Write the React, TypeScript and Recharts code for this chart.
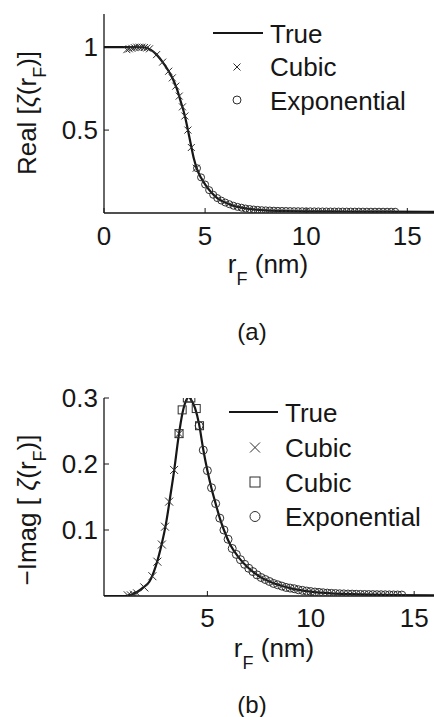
import React from 'react';
import { ComposedChart, Line, Scatter, XAxis, YAxis } from 'recharts';

// (a) real part: true curve
const realTrueR = [0, 1, 1.5, 2.0, 2.3, 2.6, 2.9, 3.2, 3.4, 3.6, 3.8, 4.0, 4.15, 4.3, 4.45, 4.6, 4.8, 5.0, 5.3, 5.6, 6.0, 6.5, 7.0, 7.5, 8, 9, 10, 12, 14, 18.1];
const realTrueV = [1, 1, 1, 0.998, 0.985, 0.955, 0.91, 0.855, 0.81, 0.75, 0.67, 0.585, 0.5, 0.41, 0.325, 0.265, 0.212, 0.172, 0.125, 0.09, 0.063, 0.04, 0.028, 0.02, 0.016, 0.012, 0.01, 0.009, 0.008, 0.007];

// (a) cubic samples
const realCubicR = [1.13, 1.25, 1.38, 1.5, 1.62, 1.75, 1.88, 2.0, 2.12, 2.25, 2.6, 2.9, 3.2, 3.38, 3.55, 3.72, 3.88, 4.0, 4.15, 4.32, 4.56];
const realCubicV = [0.985, 0.99, 0.993, 0.997, 1.0, 1.0, 1.0, 0.998, 0.995, 0.99, 0.955, 0.91, 0.855, 0.815, 0.765, 0.705, 0.64, 0.585, 0.5, 0.395, 0.27];

// exponential samples share one r grid in both panels
const expR = [
  4.6, 4.8, 5.0, 5.2, 5.4, 5.6, 5.8, 6.0, 6.2, 6.4,
  6.6, 6.8, 7.0, 7.2, 7.4, 7.6, 7.8, 8.0, 8.2, 8.4,
  8.6, 8.8, 9.0, 9.2, 9.4, 9.6, 9.8, 10.0, 10.2, 10.4,
  10.6, 10.8, 11.0, 11.2, 11.4, 11.6, 11.8, 12.0, 12.2, 12.4,
  12.6, 12.8, 13.0, 13.2, 13.4, 13.6, 13.8, 14.0, 14.2, 14.4,
];
const realExpV = [
  0.27, 0.215, 0.172, 0.138, 0.11, 0.09, 0.075, 0.063, 0.053, 0.044,
  0.037, 0.032, 0.027, 0.024, 0.021, 0.019, 0.017, 0.016, 0.015, 0.014,
  0.013, 0.0125, 0.012, 0.0115, 0.011, 0.0108, 0.0105, 0.0102, 0.01, 0.0098,
  0.0096, 0.0094, 0.0092, 0.009, 0.0089, 0.0088, 0.0087, 0.0086, 0.0085, 0.0084,
  0.0083, 0.0082, 0.0081, 0.008, 0.008, 0.0079, 0.0079, 0.0078, 0.0078, 0.0077,
];

// (b) -imag part: true curve
const imagTrueR = [0, 1.0, 1.3, 1.6, 1.9, 2.2, 2.5, 2.8, 3.0, 3.2, 3.4, 3.6, 3.8, 4.0, 4.1, 4.2, 4.4, 4.6, 4.8, 5.0, 5.2, 5.4, 5.6, 5.8, 6.1, 6.5, 7.0, 7.5, 8.0, 9.0, 10, 11, 12, 14, 17.7];
const imagTrueV = [0, 0, 0.002, 0.006, 0.013, 0.022, 0.045, 0.08, 0.11, 0.15, 0.192, 0.24, 0.278, 0.298, 0.302, 0.298, 0.285, 0.26, 0.222, 0.19, 0.163, 0.14, 0.118, 0.1, 0.078, 0.059, 0.042, 0.03, 0.022, 0.012, 0.0067, 0.004, 0.0028, 0.0015, 0.0008];

// (b) cubic samples, crosses
const imagCubicR = [1.15, 1.3, 1.45, 1.6, 1.95, 2.34, 2.58, 2.8, 2.95, 3.15, 3.39, 3.63];
const imagCubicV = [0.001, 0.001, 0.002, 0.004, 0.013, 0.03, 0.052, 0.078, 0.105, 0.143, 0.191, 0.246];

// (b) cubic samples, squares
const imagCubic2R = [3.63, 3.78, 4.03, 4.2, 4.46, 4.62];
const imagCubic2V = [0.246, 0.282, 0.3, 0.3, 0.284, 0.258];

const imagExpV = [
  0.258, 0.221, 0.19, 0.164, 0.14, 0.118, 0.1, 0.086, 0.072, 0.063,
  0.055, 0.048, 0.042, 0.037, 0.032, 0.028, 0.025, 0.022, 0.019, 0.017,
  0.015, 0.013, 0.012, 0.011, 0.0095, 0.0085, 0.0075, 0.0067, 0.006, 0.0054,
  0.0049, 0.0044, 0.004, 0.0037, 0.0034, 0.0032, 0.003, 0.0028, 0.0026, 0.0024,
  0.0023, 0.0022, 0.0021, 0.002, 0.0019, 0.0018, 0.0017, 0.0016, 0.0015, 0.0014,
];

const xTicksA = [0, 5, 10, 15];
const yTicksA = [0.5, 1];
const xTicksB = [5, 10, 15];
const yTicksB = [0.1, 0.2, 0.3];

const zip = (rs: number[], vs: number[]) => rs.map((r, i) => ({ r, v: vs[i] }));

const FONT = '"Liberation Sans", Arial, Helvetica, sans-serif';
const INK = '#161616';
const MARK = '#2e2e2e';

const crossShape = (size: number) => (p: any) => {
  const s = size / 2;
  const { cx, cy } = p;
  return (
    <path
      d={`M${cx - s},${cy - s}L${cx + s},${cy + s}M${cx - s},${cy + s}L${cx + s},${cy - s}`}
      stroke={MARK}
      strokeWidth={1}
      fill="none"
    />
  );
};
const circleShape = (size: number) => (p: any) => (
  <circle cx={p.cx} cy={p.cy} r={size / 2} stroke={MARK} strokeWidth={1} fill="none" />
);
const squareShape = (size: number) => (p: any) => (
  <rect x={p.cx - size / 2} y={p.cy - size / 2} width={size} height={size} stroke={MARK} strokeWidth={1} fill="none" />
);

const tickStyle = { fontSize: 26, fill: INK, fontFamily: FONT };
const axisLine = { stroke: INK, strokeWidth: 1.3 };
const tickLine = { stroke: INK, strokeWidth: 1 };

export default function App() {
  return (
    <div
      style={{
        position: 'absolute',
        left: 0,
        top: 0,
        width: 434,
        height: 717,
        overflow: 'hidden',
        background: '#fff',
        fontFamily: FONT,
      }}
    >
      <div style={{ position: 'absolute', left: 0, top: 0 }}>
        <ComposedChart width={470} height={260} margin={{ top: 14, right: 0, bottom: 0, left: 40 }}>
          <XAxis
            dataKey="r"
            type="number"
            domain={[0, 18.1]}
            ticks={xTicksA}
            interval={0}
            allowDataOverflow
            height={47}
            tickSize={-5}
            tickMargin={19}
            tick={tickStyle}
            axisLine={axisLine}
            tickLine={tickLine}
          />
          <XAxis
            xAxisId="top"
            orientation="top"
            dataKey="r"
            type="number"
            domain={[0, 18.1]}
            ticks={xTicksA}
            interval={0}
            height={0}
            tick={false}
            tickSize={-5}
            axisLine={axisLine}
            tickLine={tickLine}
          />
          <YAxis
            dataKey="v"
            type="number"
            domain={[0, 1.2]}
            ticks={yTicksA}
            interval={0}
            allowDataOverflow
            width={64}
            tickSize={-5}
            tickMargin={11}
            tick={tickStyle}
            axisLine={axisLine}
            tickLine={tickLine}
          />
          <Line
            data={zip(realTrueR, realTrueV)}
            dataKey="v"
            type="monotone"
            stroke={INK}
            strokeWidth={2.2}
            dot={false}
            isAnimationActive={false}
          />
          <Scatter data={zip(realCubicR, realCubicV)} shape={crossShape(7)} isAnimationActive={false} />
          <Scatter data={zip(expR, realExpV)} shape={circleShape(7)} isAnimationActive={false} />
        </ComposedChart>
      </div>

      <div style={{ position: 'absolute', left: 0, top: 384 }}>
        <ComposedChart width={470} height={260} margin={{ top: 14, right: 0, bottom: 0, left: 40 }}>
          <XAxis
            dataKey="r"
            type="number"
            domain={[0, 17.7]}
            ticks={xTicksB}
            interval={0}
            allowDataOverflow
            height={48}
            tickSize={-5}
            tickMargin={18}
            tick={tickStyle}
            axisLine={axisLine}
            tickLine={tickLine}
          />
          <XAxis
            xAxisId="top"
            orientation="top"
            dataKey="r"
            type="number"
            domain={[0, 17.7]}
            ticks={xTicksB}
            interval={0}
            height={0}
            tick={false}
            tickSize={-5}
            axisLine={axisLine}
            tickLine={tickLine}
          />
          <YAxis
            dataKey="v"
            type="number"
            domain={[0, 0.3]}
            ticks={yTicksB}
            interval={0}
            allowDataOverflow
            width={64}
            tickSize={-5}
            tickMargin={11}
            tick={tickStyle}
            axisLine={axisLine}
            tickLine={tickLine}
          />
          <Line
            data={zip(imagTrueR, imagTrueV)}
            dataKey="v"
            type="monotone"
            stroke={INK}
            strokeWidth={2.2}
            dot={false}
            isAnimationActive={false}
          />
          <Scatter data={zip(imagCubicR, imagCubicV)} shape={crossShape(8)} isAnimationActive={false} />
          <Scatter data={zip(imagCubic2R, imagCubic2V)} shape={squareShape(8)} isAnimationActive={false} />
          <Scatter data={zip(expR, imagExpV)} shape={circleShape(8)} isAnimationActive={false} />
        </ComposedChart>
      </div>

      {/* titles, captions and legends */}
      <svg
        width={434}
        height={717}
        style={{ position: 'absolute', left: 0, top: 0, pointerEvents: 'none' }}
        fontFamily={FONT}
        fill={INK}
      >
        <text x={36} y={113} transform="rotate(-90 36 113)" textAnchor="middle" fontSize={26}>
          Real [<tspan fontStyle="italic">ζ</tspan>(r<tspan fontSize={18} dy={10}>F</tspan>
          <tspan dy={-10}>)]</tspan>
        </text>
        <text x={268} y={273} textAnchor="middle" fontSize={26}>
          r<tspan fontSize={18} dy={12}>F</tspan>
          <tspan dy={-12}> (nm)</tspan>
        </text>
        <text x={252} y={340} textAnchor="middle" fontSize={24}>(a)</text>

        <line x1={213} x2={263} y1={33} y2={33} stroke={INK} strokeWidth={2} />
        <text x={270} y={42.5} fontSize={26}>True</text>
        <path d="M233.5,63.5L240.5,70.5M233.5,70.5L240.5,63.5" stroke={MARK} fill="none" />
        <text x={270} y={76} fontSize={26}>Cubic</text>
        <circle cx={237} cy={100} r={4} stroke={MARK} fill="none" />
        <text x={270} y={109.5} fontSize={26}>Exponential</text>

        <text x={36} y={510} transform="rotate(-90 36 510)" textAnchor="middle" fontSize={26}>
          −Imag [ <tspan fontStyle="italic">ζ</tspan>(r<tspan fontSize={18} dy={10}>F</tspan>
          <tspan dy={-10}>)]</tspan>
        </text>
        <text x={274} y={657} textAnchor="middle" fontSize={26}>
          r<tspan fontSize={18} dy={12}>F</tspan>
          <tspan dy={-12}> (nm)</tspan>
        </text>
        <text x={252} y={713} textAnchor="middle" fontSize={24}>(b)</text>

        <line x1={229} x2={278} y1={412} y2={412} stroke={INK} strokeWidth={2} />
        <text x={285} y={421.5} fontSize={26}>True</text>
        <path d="M250,442.5L260,452.5M250,452.5L260,442.5" stroke={MARK} fill="none" />
        <text x={285} y={457} fontSize={26}>Cubic</text>
        <rect x={250} y={477} width={10} height={10} stroke={MARK} fill="none" />
        <text x={285} y={491.5} fontSize={26}>Cubic</text>
        <circle cx={255} cy={516.5} r={5} stroke={MARK} fill="none" />
        <text x={285} y={526} fontSize={26}>Exponential</text>
      </svg>
    </div>
  );
}
